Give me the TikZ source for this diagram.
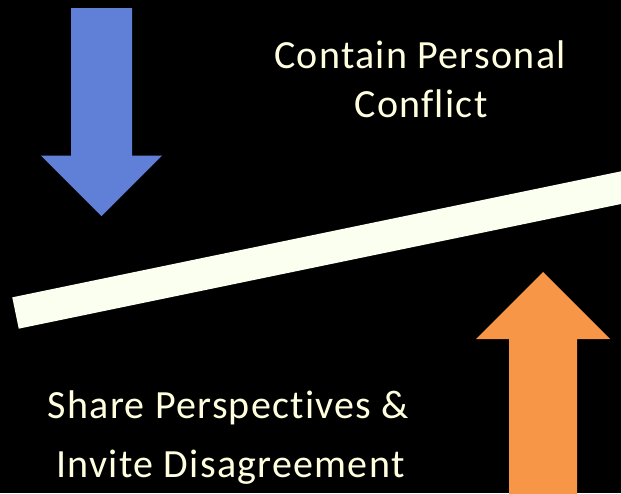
\documentclass[tikz,border=0pt]{standalone}
\usepackage{fontspec}
\setmainfont[LetterSpace=3.2,Ligatures={NoCommon}]{Carlito}
\usetikzlibrary{positioning}
\definecolor{pushblue}{RGB}{96,128,216}
\definecolor{pushorange}{RGB}{247,150,70}
\definecolor{beamcream}{RGB}{250,255,240}
\definecolor{labelcream}{RGB}{255,255,224}
\begin{document}
\begin{tikzpicture}[x=1pt,y=-1pt,
    label text/.style={text=labelcream,inner sep=0pt,anchor=base,font=\fontsize{40}{48}\selectfont},
    beam/.style={draw=beamcream,line width=32pt,line cap=butt}]
    \fill[black] (0,0) rectangle (621,493);
    \useasboundingbox (0,0) rectangle (621,493);
    \clip (0,0) rectangle (621,493);
    % the tilted beam
    \coordinate (beamL) at (15.5,313);
    \coordinate (beamR) at (700,171.3);
    \draw[beam] (beamL) -- (beamR);
    % pushing arrows
    \fill[pushblue] (71,8) -- (132,8) -- (132,155.5) -- (162,155.5) -- (101.5,216)
        -- (41,155.5) -- (71,155.5) -- cycle;
    \fill[pushorange] (509,500) -- (509,339) -- (476,339) -- (543,272) -- (610,339)
        -- (577,339) -- (577,500) -- cycle;
    % labels
    \node[label text] (contain) at (420,68) {Contain Personal};
    \node[label text] (conflict) at (421,117) {Conflict};
    \node[label text] (share) at (228.5,418) {Share Perspectives \&};
    \node[label text] (invite) at (230.5,477) {Invite Disagreement};
\end{tikzpicture}
\end{document}
